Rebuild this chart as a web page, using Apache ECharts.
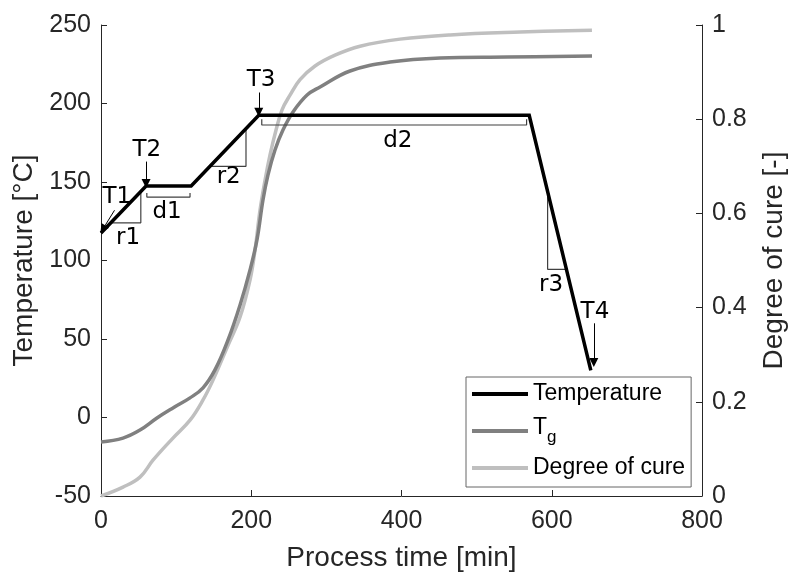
<!DOCTYPE html>
<html>
<head>
<meta charset="utf-8">
<script src="https://cdn.jsdelivr.net/npm/echarts@6/dist/echarts.min.js"></script>
<style>html,body{margin:0;padding:0;background:#fff;}#c{width:790px;height:572px;}</style>
</head>
<body>
<div id="c"></div>
<script>
// ---- data ----
const xTicks = [0, 200, 400, 600, 800];
const tempTime = [0, 60, 120, 210, 570, 652];
const tempVals = [117.5, 147.5, 147.5, 192.5, 192.5, 30];

const tgTime = [0, 29.3, 51.9, 74.5, 95.8, 118.5, 135.8, 151.7, 169.1, 185.1, 198.4, 207.6, 215.6, 222.3, 231.6, 242.2, 255.6, 274.3, 291.6, 331.5, 384.8, 451.3, 540.5, 653.6];
const tgVals = [-15.6, -13.1, -8.0, -0.3, 6.1, 12.5, 18.9, 30.3, 49.4, 71.7, 94.0, 113.1, 138.5, 154.5, 170.4, 183.1, 194.6, 205.4, 210.5, 220.7, 226.4, 229.0, 229.6, 230.3];

const cureTime = [0, 29.3, 51.9, 69.2, 95.8, 118.5, 135.8, 149.1, 169.1, 185.1, 198.4, 205.0, 211.7, 218.4, 225.0, 233.0, 241.0, 251.6, 264.9, 284.9, 311.5, 344.8, 398.1, 464.7, 557.9, 653.5];
const cureVals = [0, 0.019, 0.040, 0.076, 0.123, 0.161, 0.204, 0.246, 0.320, 0.380, 0.459, 0.522, 0.607, 0.671, 0.724, 0.777, 0.820, 0.851, 0.884, 0.913, 0.936, 0.955, 0.970, 0.979, 0.985, 0.989];

// annotations (data coordinates, left axis)
const annNames = ['T1', 'r1', 'T2', 'd1', 'r2', 'T3', 'd2', 'r3', 'T4'];
const annX = [21, 36, 61, 88, 170, 213, 395, 599, 657.5];
const annY = [140.4, 114, 170.4, 131, 153, 215, 176, 84.4, 67.2];

const triR1 = [[13, 124], [53, 124], [53, 144]];
const triR2 = [[145, 160], [193, 160], [193, 184]];
const triR3 = [[619.5, 94.4], [594.5, 94.4], [594.5, 143.9]];
const brD1 = [[61, 143], [61, 140.4], [118.5, 140.4], [118.5, 143]];
const brD2 = [[214, 190], [214, 186.3], [566.5, 186.3], [566.5, 190]];

const arrowT1 = [[18, 132], [2.5, 120]];
const arrowT2 = [[60, 163], [60, 149]];
const arrowT3 = [[210, 207], [210, 194.5]];
const arrowT4 = [[656, 60], [656, 35]];

// ---- chart ----
const zip = (a, b) => a.map((v, i) => [v, b[i]]);
const txt = '#262626';
const font = 'Liberation Sans';

function helper(pts) {
  return {
    type: 'line', data: pts, symbol: 'none', silent: true,
    lineStyle: { color: '#404040', width: 1.2 }, z: 3
  };
}

const chart = echarts.init(document.getElementById('c'));
chart.setOption({
  animation: false,
  backgroundColor: '#fff',
  grid: { left: 101, right: 88, top: 25, bottom: 76, containLabel: false, outerBoundsMode: 'none' },
  xAxis: {
    type: 'value', min: 0, max: 800, interval: 200,
    name: 'Process time [min]', nameLocation: 'middle', nameGap: 48,
    nameTextStyle: { fontFamily: font, fontSize: 28, color: txt },
    axisLine: { show: true, onZero: false, lineStyle: { color: txt, width: 1 } },
    axisTick: { show: true, inside: true, length: 6, lineStyle: { color: txt } },
    axisLabel: { fontFamily: font, fontSize: 25, color: txt, margin: 13 },
    splitLine: { show: false }
  },
  yAxis: [{
    type: 'value', min: -50, max: 250, interval: 50,
    name: 'Temperature [°C]', nameLocation: 'middle', nameGap: 55,
    nameTextStyle: { fontFamily: font, fontSize: 28, color: txt },
    axisLine: { show: true, onZero: false, lineStyle: { color: txt, width: 1 } },
    axisTick: { show: true, inside: true, length: 6, lineStyle: { color: txt } },
    axisLabel: { fontFamily: font, fontSize: 25, color: txt, margin: 10 },
    splitLine: { show: false }
  }, {
    type: 'value', min: 0, max: 1, interval: 0.2, position: 'right',
    name: 'Degree of cure [-]', nameLocation: 'middle', nameGap: 58,
    nameTextStyle: { fontFamily: font, fontSize: 28, color: txt },
    axisLine: { show: true, onZero: false, lineStyle: { color: txt, width: 1 } },
    axisTick: { show: true, inside: true, length: 6, lineStyle: { color: txt } },
    axisLabel: { fontFamily: font, fontSize: 25, color: txt, margin: 10 },
    splitLine: { show: false }
  }],
  legend: {
    data: ['Temperature', 'Tg', 'Degree of cure'],
    orient: 'vertical', left: 466, top: 377, icon: 'rect',
    padding: [4, 6, 6, 6], itemGap: 9, itemWidth: 56, itemHeight: 4,
    backgroundColor: '#fff', borderColor: '#666', borderWidth: 1, borderRadius: 0,
    formatter: function (n) { return n === 'Tg' ? '{t|T}{g|g}' : n; },
    textStyle: {
      fontFamily: font, fontSize: 23, color: '#000', lineHeight: 26,
      rich: {
        t: { fontFamily: font, fontSize: 23, color: '#000', lineHeight: 30, verticalAlign: 'top' },
        g: { fontFamily: font, fontSize: 17, color: '#000', lineHeight: 30, verticalAlign: 'bottom' }
      }
    }
  },
  series: [
    {
      name: 'Degree of cure', type: 'line', yAxisIndex: 1, data: zip(cureTime, cureVals),
      symbol: 'none', smooth: 0.4,
      lineStyle: { color: '#bfbfbf', width: 3.5 }, itemStyle: { color: '#bfbfbf' }, z: 2
    },
    {
      name: 'Tg', type: 'line', yAxisIndex: 0, data: zip(tgTime, tgVals),
      symbol: 'none', smooth: 0.4,
      lineStyle: { color: '#808080', width: 3.5 }, itemStyle: { color: '#808080' }, z: 2
    },
    helper(triR1), helper(triR2), helper(triR3), helper(brD1), helper(brD2),
    {
      name: 'Temperature', type: 'line', yAxisIndex: 0, data: zip(tempTime, tempVals),
      symbol: 'none', lineStyle: { color: '#000', width: 3.5, join: 'miter' }, itemStyle: { color: '#000' }, z: 4
    },
    {
      type: 'lines', coordinateSystem: 'cartesian2d', xAxisIndex: 0, yAxisIndex: 0,
      symbol: ['none', 'triangle'], symbolSize: [7, 9], silent: true,
      lineStyle: { color: '#000', width: 1, opacity: 1 },
      data: [arrowT1, arrowT2, arrowT3, arrowT4].map(c => ({ coords: c })), z: 5
    },
    {
      type: 'scatter', yAxisIndex: 0, symbolSize: 1, silent: true,
      itemStyle: { color: 'transparent', opacity: 1 },
      data: annNames.map((n, i) => ({ name: n, value: [annX[i], annY[i]] })),
      label: { show: true, position: 'inside', formatter: '{b}', fontFamily: 'DejaVu Sans', fontSize: 23, color: '#000', opacity: 1, textBorderWidth: 0 },
      z: 6
    }
  ]
});
</script>
</body>
</html>
